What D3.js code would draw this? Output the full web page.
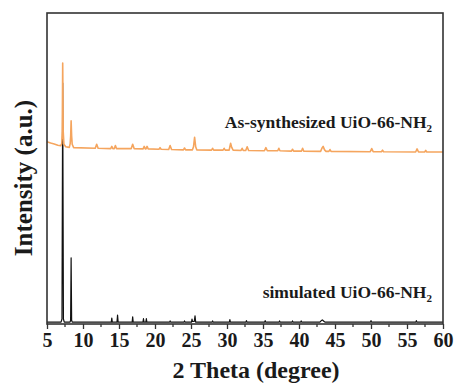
<!DOCTYPE html>
<html>
<head>
<meta charset="utf-8">
<script src="https://cdn.jsdelivr.net/npm/d3@7"></script>
<style>
  body { margin: 0; background: #fff; }
  text { font-family: "Liberation Serif", "Times New Roman", serif; font-weight: bold; fill: #1a1a1a; }
</style>
</head>
<body>
<svg id="chart" width="456" height="385"></svg>
<script>
// 2θ tick values
const majorTicks = [5, 10, 15, 20, 25, 30, 35, 40, 45, 50, 55, 60];
const minorTicks = [7.5, 12.5, 17.5, 22.5, 27.5, 32.5, 37.5, 42.5, 47.5, 52.5, 57.5];

// Simulated pattern: [2θ (deg), intensity (a.u.)]
const simulated = [
  [5.0,0.6],
  [6.95,0.6],[7.08,1.6],[7.18,77.5],[7.28,1.6],[7.4,0.6],
  [8.2,0.6],[8.28,1.2],[8.35,21.3],[8.42,1.2],[8.5,0.6],
  [13.93,0.6],[14.0,1.9],[14.07,0.6],
  [14.72,0.6],[14.8,2.9],[14.88,0.6],
  [16.83,0.6],[16.9,2.3],[16.97,0.6],
  [18.33,0.6],[18.4,1.7],[18.47,0.6],
  [18.73,0.6],[18.8,1.7],[18.87,0.6],
  [22.03,0.6],[22.1,1.0],[22.17,0.6],
  [24.03,0.6],[24.1,1.0],[24.17,0.6],
  [25.07,0.6],[25.14,1.6],[25.22,0.8],[25.45,0.8],[25.56,2.6],[25.65,0.6],
  [27.93,0.6],[28.0,1.0],[28.07,0.6],
  [30.33,0.6],[30.4,1.4],[30.47,0.6],
  [32.63,0.6],[32.7,1.1],[32.77,0.6],
  [35.23,0.6],[35.3,1.1],[35.37,0.6],
  [37.23,0.6],[37.3,1.0],[37.37,0.6],
  [39.03,0.6],[39.1,1.0],[39.17,0.6],
  [40.23,0.6],[40.3,1.0],[40.37,0.6],
  [42.9,0.6],[43.1,1.1],[43.25,1.3],[43.45,0.9],[43.6,0.6],
  [49.93,0.6],[50.0,1.1],[50.07,0.6],
  [56.23,0.6],[56.3,1.1],[56.37,0.6],
  [60.0,0.6]
];

// As-synthesized pattern (offset upward): [2θ (deg), intensity (a.u.)]
const synthesized = [
  [5.0,58.6],[5.5,58.2],[6.0,57.9],[6.5,57.5],[6.9,57.3],
  [7.05,58.0],[7.12,62.0],[7.18,83.9],[7.25,62.0],[7.35,57.8],[7.6,57.0],
  [8.1,56.8],[8.22,58.0],[8.29,60.5],[8.35,65.3],[8.42,60.5],[8.5,57.8],[8.7,56.7],
  [11.7,56.5],[11.9,57.8],[12.1,56.5],
  [13.85,56.4],[14.0,57.1],[14.15,56.4],
  [14.35,56.4],[14.5,57.4],[14.65,56.4],
  [16.7,56.4],[16.9,57.8],[17.1,56.4],
  [18.35,56.3],[18.5,57.1],[18.65,56.3],[18.75,56.3],[18.9,57.1],[19.05,56.3],
  [20.55,56.2],[20.7,56.7],[20.85,56.2],
  [21.9,56.1],[22.1,57.4],[22.3,56.1],
  [23.95,56.0],[24.1,56.6],[24.25,56.0],
  [25.2,56.0],[25.35,57.0],[25.5,60.0],[25.65,57.0],[25.8,56.0],
  [27.85,55.9],[28.0,56.5],[28.15,55.9],
  [29.45,55.9],[29.6,56.5],[29.75,55.9],
  [30.3,55.9],[30.4,57.0],[30.5,58.1],[30.65,56.8],[30.85,55.9],
  [31.95,55.8],[32.1,56.5],[32.25,55.8],
  [32.6,55.8],[32.8,57.0],[33.0,55.8],
  [35.2,55.7],[35.4,56.7],[35.6,55.7],
  [37.05,55.7],[37.2,56.5],[37.35,55.7],
  [38.95,55.6],[39.1,56.2],[39.25,55.6],
  [40.35,55.6],[40.5,56.5],[40.65,55.6],
  [43.0,55.5],[43.2,56.6],[43.35,57.1],[43.55,56.0],[43.75,55.5],
  [44.15,55.5],[44.3,56.1],[44.45,55.5],
  [49.9,55.4],[50.1,56.4],[50.3,55.4],
  [51.45,55.4],[51.6,55.9],[51.75,55.4],
  [56.2,55.3],[56.4,56.3],[56.6,55.3],
  [57.45,55.3],[57.6,55.8],[57.75,55.3],
  [60.0,55.3]
];

const svg = d3.select("#chart");
const plotLeft = 47, plotRight = 443, plotTop = 13, plotBottom = 324;

const x = d3.scaleLinear().domain([5, 60]).range([plotLeft, plotRight]);
const y = d3.scaleLinear().domain([0, 100]).range([plotBottom, plotTop]);

const line = d3.line().x(d => x(d[0])).y(d => y(d[1]));

svg.append("path").datum(simulated)
  .attr("d", line).attr("fill", "none")
  .attr("stroke", "#111").attr("stroke-width", 1.2).attr("stroke-linejoin", "round");

svg.append("path").datum(synthesized)
  .attr("d", line).attr("fill", "none")
  .attr("stroke", "#f5a55e").attr("stroke-width", 1.6).attr("stroke-linejoin", "round");

// frame
svg.append("rect")
  .attr("x", plotLeft).attr("y", plotTop)
  .attr("width", plotRight - plotLeft).attr("height", plotBottom - plotTop)
  .attr("fill", "none").attr("stroke", "#333").attr("stroke-width", 1.6);

// bottom axis: major + minor ticks
const axisG = svg.append("g").attr("transform", `translate(0,${plotBottom})`);
axisG.call(d3.axisBottom(x).tickValues(majorTicks).tickSize(5).tickPadding(4).tickFormat(d3.format("d")));
axisG.select(".domain").remove();
axisG.selectAll(".tick line").attr("stroke", "#333").attr("stroke-width", 1.3);
axisG.selectAll(".tick text")
  .attr("font-family", "'Liberation Serif', serif")
  .attr("font-size", 20).attr("font-weight", "bold").attr("fill", "#1a1a1a");

axisG.selectAll(".minor").data(minorTicks).enter().append("line")
  .attr("class", "minor")
  .attr("x1", d => x(d)).attr("x2", d => x(d))
  .attr("y1", 0).attr("y2", 3)
  .attr("stroke", "#333").attr("stroke-width", 1.3);

// axis titles
svg.append("text")
  .attr("x", 256).attr("y", 378)
  .attr("text-anchor", "middle").attr("font-size", 24)
  .text("2 Theta (degree)");

svg.append("text")
  .attr("transform", "translate(32,178) rotate(-90)")
  .attr("text-anchor", "middle").attr("font-size", 25)
  .text("Intensity (a.u.)");

// series labels
function label(xEnd, yBase, main) {
  const t = svg.append("text")
    .attr("x", xEnd).attr("y", yBase)
    .attr("text-anchor", "end").attr("font-size", 17.5);
  t.append("tspan").text(main);
  t.append("tspan").attr("dy", 4).attr("font-size", 11).text("2");
}
label(432, 128, "As-synthesized UiO-66-NH");
label(432, 298, "simulated UiO-66-NH");
</script>
</body>
</html>
